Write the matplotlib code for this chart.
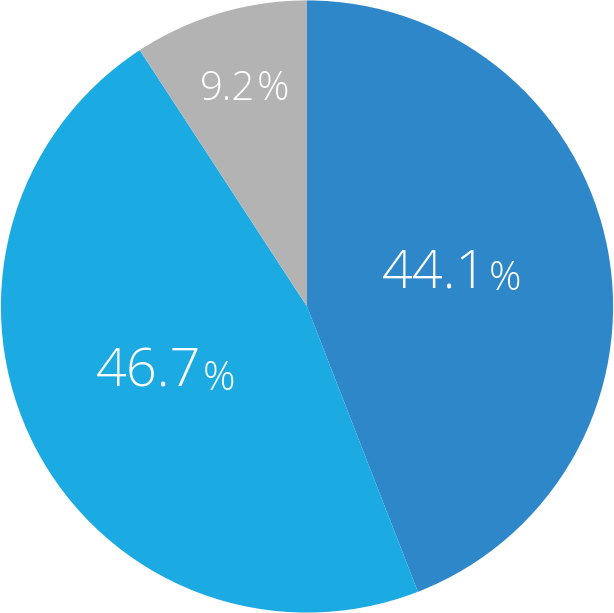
import numpy as np
import matplotlib
matplotlib.use("Agg")
import matplotlib.pyplot as plt

# slice values (percent), clockwise from 12 o'clock
labels = ["44.1", "46.7", "9.2"]
values = [44.1, 46.7, 9.2]
colors = ["#2E87C8", "#1CAAE2", "#B3B3B3"]

plt.rcParams['font.family'] = ['Open Sans', 'DejaVu Sans']

fig = plt.figure(figsize=(6.14, 6.13), dpi=100)
ax = fig.add_axes([0, 0, 1, 1])
wedges, _ = ax.pie(values, colors=colors, startangle=90, counterclock=False,
                   radius=1.0, wedgeprops=dict(linewidth=0))
ax.set_xlim(-1.003, 1.003)
ax.set_ylim(-1.0, 1.0)
ax.set_aspect('equal')
ax.axis('off')

# label distance, number size, percent size for each slice
dist = [0.48, 0.52, 0.72]
num_fs = [39, 39, 29]
pct_fs = [29, 29, 29]

fig.canvas.draw()
r = fig.canvas.get_renderer()
px_per_unit = ax.transData.transform((1, 0))[0] - ax.transData.transform((0, 0))[0]
for w, lab, d, nf, pf in zip(wedges, labels, dist, num_fs, pct_fs):
    ang = np.deg2rad((w.theta1 + w.theta2) / 2)
    x, y = d * np.cos(ang), d * np.sin(ang) + 0.02
    t = ax.text(x, y, lab, color='white', fontsize=nf, ha='left', va='center',
                fontweight='light')
    p = ax.annotate('%', xy=(1, 0), xycoords=t, xytext=(1, 0), textcoords='offset points',
                    color='white', fontsize=pf, ha='left', va='bottom', fontweight='light')
    # centre the number + % group on the label point
    x0 = t.get_window_extent(r).x0
    x1 = p.get_window_extent(r).x1
    t.set_x(x - (x1 - x0) / 2 / px_per_unit)

fig.savefig("out.png", dpi=100)
